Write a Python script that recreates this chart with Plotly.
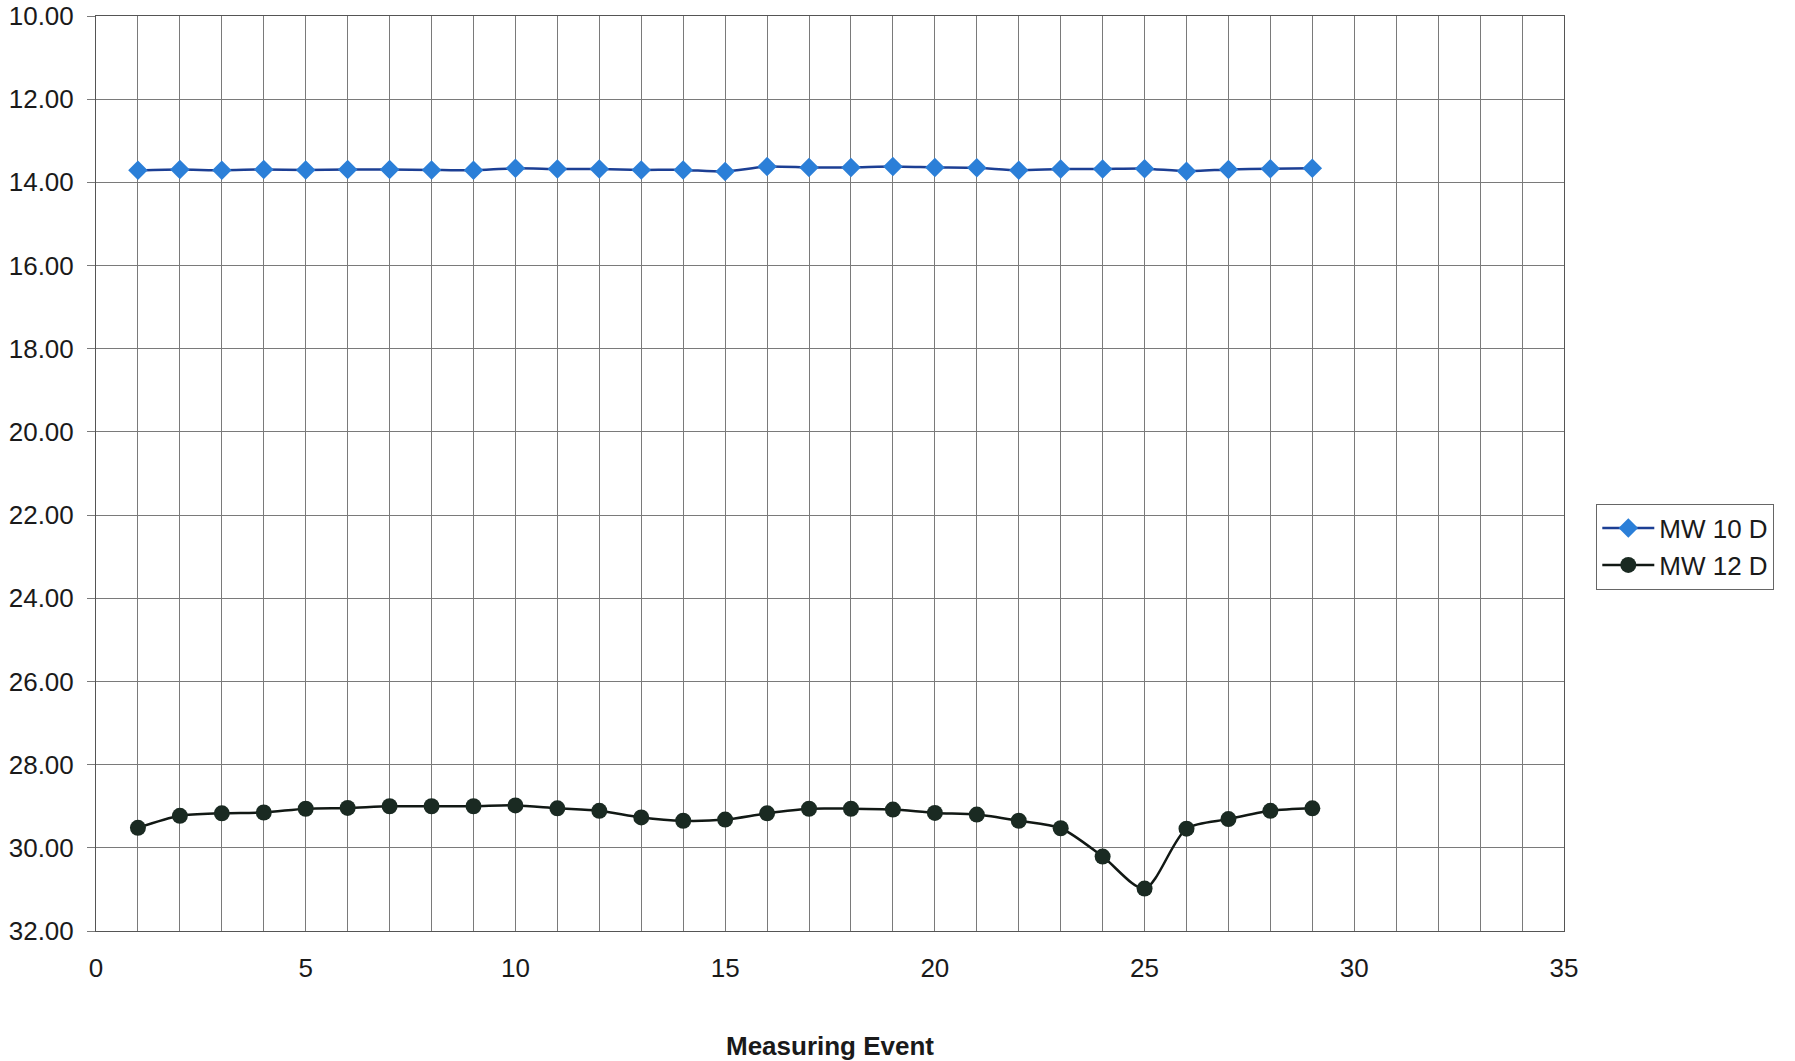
import plotly.graph_objects as go

events = list(range(1, 30))
mw10d = [13.71, 13.69, 13.71, 13.69, 13.70, 13.69, 13.69, 13.70, 13.71, 13.66,
         13.68, 13.68, 13.70, 13.70, 13.74, 13.62, 13.64, 13.64, 13.62, 13.64,
         13.65, 13.71, 13.68, 13.68, 13.67, 13.73, 13.69, 13.67, 13.66]
mw12d = [29.52, 29.23, 29.17, 29.15, 29.06, 29.04, 29.00, 29.00, 29.00, 28.98,
         29.05, 29.11, 29.27, 29.35, 29.32, 29.17, 29.06, 29.06, 29.08, 29.16,
         29.20, 29.35, 29.53, 30.21, 30.98, 29.54, 29.31, 29.11, 29.05]
y_ticks = [10, 12, 14, 16, 18, 20, 22, 24, 26, 28, 30, 32]

fig = go.Figure()
fig.add_trace(go.Scatter(
    x=events, y=mw10d, name="MW 10 D", mode="lines+markers",
    line=dict(color="#1c3f94", width=2.5, shape="spline", smoothing=0.6),
    marker=dict(symbol="diamond", size=15, color="#2b7fd8"),
))
fig.add_trace(go.Scatter(
    x=events, y=mw12d, name="MW 12 D", mode="lines+markers",
    line=dict(color="#111814", width=2.5, shape="spline", smoothing=0.8),
    marker=dict(symbol="circle", size=16, color="#1a2a22"),
))

fig.update_layout(
    width=1795, height=1061,
    margin=dict(l=96, r=231, t=16, b=130),
    paper_bgcolor="white", plot_bgcolor="white",
    font=dict(family="Liberation Sans, Arial, sans-serif", color="#1a1a1a", size=26),
    showlegend=True,
    legend=dict(
        x=1.022, y=0.42, xanchor="left", yanchor="middle",
        bordercolor="#666666", borderwidth=1, bgcolor="white",
        font=dict(size=26), itemwidth=52, tracegroupgap=4,
    ),
)
fig.update_xaxes(
    range=[0, 35], dtick=5, tick0=0, showgrid=True, gridcolor="#7a7a7a", gridwidth=1,
    minor=dict(dtick=1, showgrid=True, gridcolor="#7a7a7a", gridwidth=1),
    showline=True, linecolor="#555555", linewidth=1, mirror=True,
    zeroline=False, ticks="", ticklabelstandoff=14, automargin=False,
    title=dict(text="<b>Measuring Event</b>", font=dict(size=26), standoff=56),
)
fig.update_yaxes(
    range=[32, 10], tickvals=y_ticks, tickformat=".2f",
    showgrid=True, gridcolor="#7a7a7a", gridwidth=1,
    showline=True, linecolor="#555555", linewidth=1, mirror=True,
    zeroline=False, ticks="outside", ticklen=8, tickcolor="#7a7a7a",
    ticklabelstandoff=8, automargin=False,
)

fig.write_html("out.html")
